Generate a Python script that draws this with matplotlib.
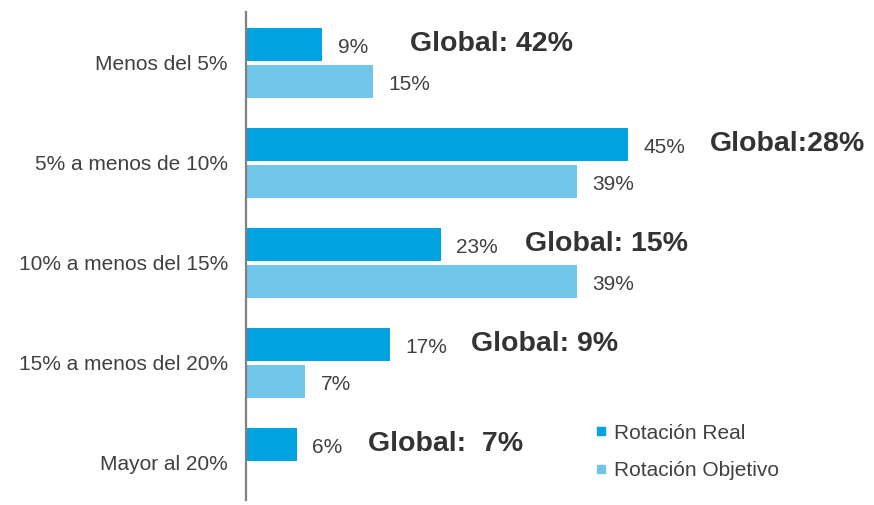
import numpy as np
import matplotlib.pyplot as plt
from matplotlib.lines import Line2D

plt.rcParams['font.family'] = ['Liberation Sans', 'DejaVu Sans']

categorias = ['Menos del 5%', '5% a menos de 10%', '10% a menos del 15%',
              '15% a menos del 20%', 'Mayor al 20%']
real = [9, 45, 23, 17, 6]
objetivo = [15, 39, 39, 7, None]
globales = ['Global: 42%', 'Global:28%', 'Global: 15%', 'Global: 9%', 'Global:  7%']
global_x = [19.3, 54.7, 32.9, 26.5, 14.4]

c_real = '#00A3E0'
c_obj = '#71C5E8'
c_txt = '#404040'

fig = plt.figure(figsize=(8.74, 5.05), dpi=100)
ax = fig.add_axes([246 / 874, 5 / 505, 628 / 874, 488 / 505])

y = np.arange(len(categorias))
h = 0.33
off = 0.185

ax.barh(y - off, real, height=h, color=c_real)
obj_vals = [v if v is not None else 0 for v in objetivo]
ax.barh(y + off, obj_vals, height=h, color=c_obj)

for i in range(len(categorias)):
    ax.annotate(f'{real[i]}%', (real[i], y[i] - off), xytext=(11, -2),
                textcoords='offset points', va='center', ha='left',
                fontsize=15, color=c_txt)
    if objetivo[i] is not None:
        ax.annotate(f'{objetivo[i]}%', (objetivo[i], y[i] + off), xytext=(11, -2),
                    textcoords='offset points', va='center', ha='left',
                    fontsize=15, color=c_txt)
    ax.text(global_x[i], y[i] - off, globales[i], va='center', ha='left',
            fontsize=20.5, fontweight='bold', color='#333333')

ax.set_xlim(0, 74)
ax.set_ylim(4.37, -0.51)
ax.set_yticks(y)
ax.set_yticklabels(categorias, fontsize=15, color=c_txt)
ax.tick_params(axis='y', length=0, pad=13)
ax.set_xticks([])
for s in ['top', 'right', 'bottom']:
    ax.spines[s].set_visible(False)
ax.spines['left'].set_color('#808080')
ax.spines['left'].set_linewidth(1.6)

handles = [Line2D([], [], marker='s', linestyle='', color=c_real, markersize=6),
           Line2D([], [], marker='s', linestyle='', color=c_obj, markersize=6)]
leg = fig.legend(handles, ['Rotación Real', 'Rotación Objetivo'],
                 loc='upper left', bbox_to_anchor=(576 / 874, 1 - 405 / 505),
                 frameon=False, handlelength=0.6, handletextpad=0.3,
                 labelspacing=0.9, fontsize=15)
for t in leg.get_texts():
    t.set_color(c_txt)

fig.savefig('out.png', dpi=100)
